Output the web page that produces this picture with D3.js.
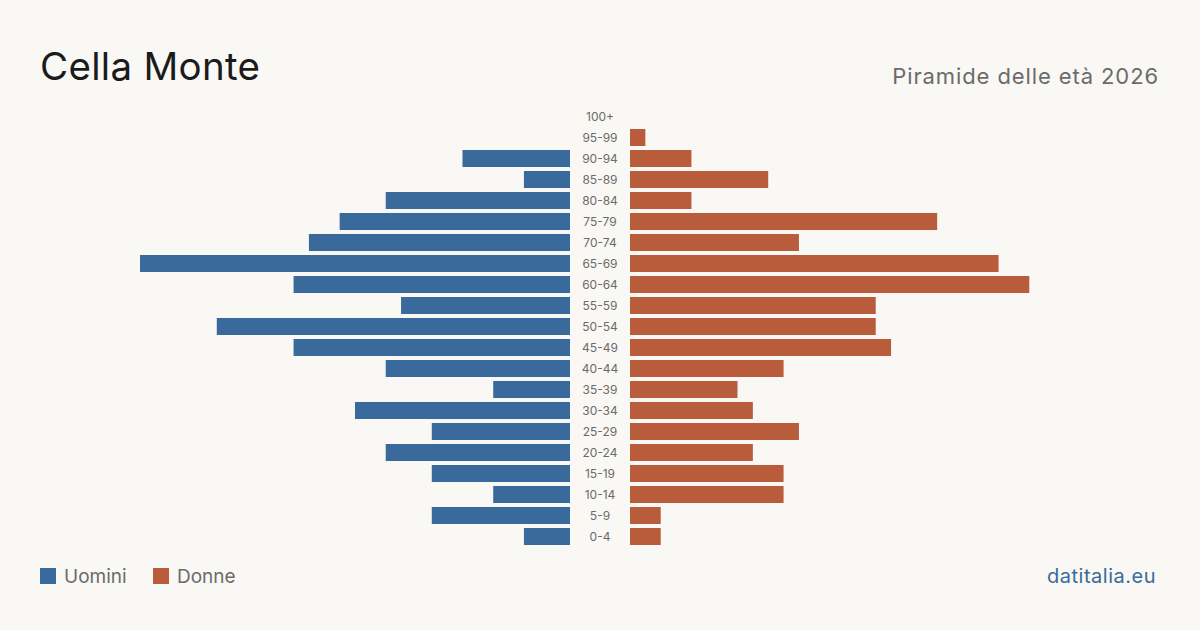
<!DOCTYPE html>
<html lang="it">
<head>
<meta charset="UTF-8">
<title>Cella Monte — Piramide delle età 2026</title>
<script src="https://d3js.org/d3.v7.min.js"></script>
<style>
html,body{margin:0;padding:0;background:#f9f8f4}
svg{display:block;font-family:Inter,"Noto Sans",sans-serif}
</style>
</head>
<body>
<div id="chart"></div>
<script>
var ageGroups = ['100+','95-99','90-94','85-89','80-84','75-79','70-74','65-69','60-64','55-59',
  '50-54','45-49','40-44','35-39','30-34','25-29','20-24','15-19','10-14','5-9','0-4'];
var uomini = [0,0,7,3,12,15,17,28,18,11,23,18,12,5,14,9,12,9,5,9,3];
var donne  = [0,1,4,9,4,20,11,24,26,16,16,17,10,7,8,11,8,10,10,2,2];

var W = 1200, H = 630;
var blue = '#3a6a9b', red = '#b85c3c';

var svg = d3.select('#chart').append('svg').attr('width', W).attr('height', H);
svg.append('rect').attr('width', W).attr('height', H).attr('fill', '#f9f8f4');

svg.append('text').attr('x', 40).attr('y', 80).attr('font-size', 38.5).attr('fill', '#1b1b1b')
  .attr('letter-spacing', 0.3).text('Cella Monte');
svg.append('text').attr('x', 1159).attr('y', 84).attr('text-anchor', 'end')
  .attr('font-size', 22).attr('letter-spacing', 0.9).attr('fill', '#6b6b6b').text('Piramide delle età 2026');

var maxV = 28;
var xL = d3.scaleLinear().domain([0, maxV]).range([570, 140]);
var xR = d3.scaleLinear().domain([0, maxV]).range([630, 1060]);
var y = d3.scaleBand().domain(ageGroups).range([106, 547]).paddingInner(0.19).paddingOuter(0.095);

var rows = ageGroups.map(function(a, i) { return { age: a, m: uomini[i], f: donne[i] }; });

svg.append('g').selectAll('rect').data(rows.filter(function(d) { return d.m > 0; })).join('rect')
  .attr('x', function(d) { return xL(d.m); })
  .attr('y', function(d) { return y(d.age); })
  .attr('width', function(d) { return xL(0) - xL(d.m); })
  .attr('height', y.bandwidth())
  .attr('fill', blue);

svg.append('g').selectAll('rect').data(rows.filter(function(d) { return d.f > 0; })).join('rect')
  .attr('x', xR(0))
  .attr('y', function(d) { return y(d.age); })
  .attr('width', function(d) { return xR(d.f) - xR(0); })
  .attr('height', y.bandwidth())
  .attr('fill', red);

svg.append('g').selectAll('text').data(ageGroups).join('text')
  .attr('x', 600)
  .attr('y', function(d) { return y(d) + y.bandwidth() / 2; })
  .attr('dy', '0.35em')
  .attr('text-anchor', 'middle')
  .attr('font-size', 12)
  .attr('fill', '#6b6b6b')
  .text(function(d) { return d; });

// Legend
var legend = [{ label: 'Uomini', color: blue, x: 40 }, { label: 'Donne', color: red, x: 153 }];
var lg = svg.append('g').selectAll('g').data(legend).join('g')
  .attr('transform', function(d) { return 'translate(' + d.x + ',568)'; });
lg.append('rect').attr('width', 16).attr('height', 16).attr('fill', function(d) { return d.color; });
lg.append('text').attr('x', 24).attr('y', 8).attr('dy', '0.35em')
  .attr('font-size', 19).attr('fill', '#6b6b6b').text(function(d) { return d.label; });

svg.append('text').attr('x', 1156).attr('y', 583).attr('text-anchor', 'end')
  .attr('font-size', 20).attr('letter-spacing', 0.5).attr('fill', '#3a6a9b').text('datitalia.eu');
</script>
</body>
</html>
